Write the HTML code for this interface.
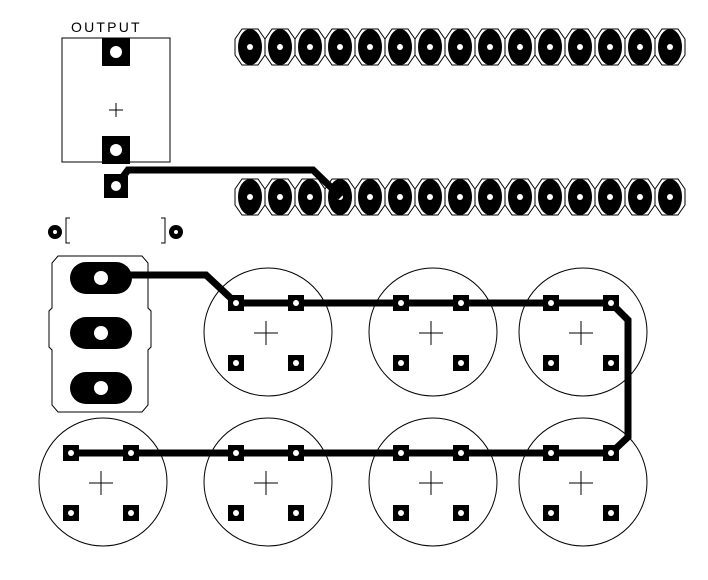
<!DOCTYPE html>
<html><head><meta charset="utf-8"><style>html,body{margin:0;background:#fff}svg{display:block}</style></head>
<body>
<svg id="pcb" width="708" height="580" viewBox="0 0 708 580" xmlns="http://www.w3.org/2000/svg">
<rect width="708" height="580" fill="#fff"/>
<g id="silk" fill="none" stroke="#000" stroke-width="1"></g>
<g id="copper"></g>
<text x="71" y="32" font-family="Liberation Sans, sans-serif" font-size="14" letter-spacing="2.2">OUTPUT</text>
</svg>
<script>
const NS='http://www.w3.org/2000/svg';
const silk=document.getElementById('silk'), cu=document.getElementById('copper');
function mk(p,tag,attrs,name){const e=document.createElementNS(NS,tag);for(const k in attrs)e.setAttribute(k,attrs[k]);


p.appendChild(e);return e;}
// header pins
const pinXs=[];for(let i=0;i<15;i++)pinXs.push(250+i*30);
[47,197].forEach((y,r)=>{pinXs.forEach(x=>{
 mk(silk,'polygon',{points:`${x-15},${y-8} ${x-8},${y-18} ${x+8},${y-18} ${x+15},${y-8} ${x+15},${y+8} ${x+8},${y+18} ${x-8},${y+18} ${x-15},${y+8}`},'header-pin-outline');
 mk(cu,'ellipse',{cx:x,cy:y,rx:12,ry:18,fill:'#000'},'header-pin-pad');
 mk(cu,'circle',{cx:x,cy:y,r:3,fill:'#fff'},'header-pin-hole');
});});
// output connector
mk(silk,'rect',{x:62,y:38,width:108,height:124},'output-outline');
mk(silk,'path',{d:'M109,110h14M116,103v14'},'output-plus');
[52,150].forEach(y=>{mk(cu,'rect',{x:102,y:y-14,width:28,height:28,fill:'#000'},'output-pad');mk(cu,'circle',{cx:116,cy:y,r:6,fill:'#fff'},'output-hole');});
// traces
mk(cu,'polyline',{points:'116,186 128,170 313,170 341,197',fill:'none',stroke:'#000','stroke-width':7},'trace-output');
mk(cu,'polyline',{points:'101,275 206,275 236,303 611,303 628,320 628,437 611,453',fill:'none',stroke:'#000','stroke-width':7,'stroke-linejoin':'miter'},'trace-top');
mk(cu,'line',{x1:71,y1:453,x2:611,y2:453,stroke:'#000','stroke-width':7},'trace-bottom');
mk(cu,'rect',{x:104,y:174,width:24,height:24,fill:'#000'},'small-pad');
mk(cu,'circle',{cx:116,cy:186,r:5,fill:'#fff'},'small-hole');
// small component
[55,176].forEach(x=>{mk(cu,'circle',{cx:x,cy:232,r:7,fill:'#000'},'resistor-pad');mk(cu,'circle',{cx:x,cy:232,r:2,fill:'#fff'},'resistor-hole');});
mk(silk,'path',{d:'M70,218h-4v25h4M161,218h4v25h-4'},'resistor-brackets');
// switch
mk(silk,'path',{d:'M58,256h84l6,7v45l3,3v36l-3,3v55l-6,7h-84l-6,-7v-55l-3,-3v-36l3,-3v-45z'},'switch-outline');
[278,333,388].forEach(y=>{mk(cu,'rect',{x:70,y:y-16,width:62,height:32,rx:16,fill:'#000'},'switch-pad');mk(cu,'circle',{cx:101,cy:y,r:7,fill:'#fff'},'switch-hole');});
// capacitors
const caps=[[266,333],[431,333],[581,333],[101,483],[266,483],[431,483],[581,483]];
caps.forEach(([cx,cy])=>{
 mk(silk,'circle',{cx:cx+2,cy:cy-1,r:64},'capacitor-outline');
 mk(silk,'path',{d:`M${cx-12},${cy}h24M${cx},${cy-12}v24`},'capacitor-plus');
 [[-30,-30],[30,-30],[-30,30],[30,30]].forEach(([dx,dy])=>{
  mk(cu,'rect',{x:cx+dx-8,y:cy+dy-8,width:16,height:16,fill:'#000'},'capacitor-pad');
  mk(cu,'circle',{cx:cx+dx,cy:cy+dy,r:3,fill:'#fff'},'capacitor-hole');
 });
});
</script>
</body></html>
